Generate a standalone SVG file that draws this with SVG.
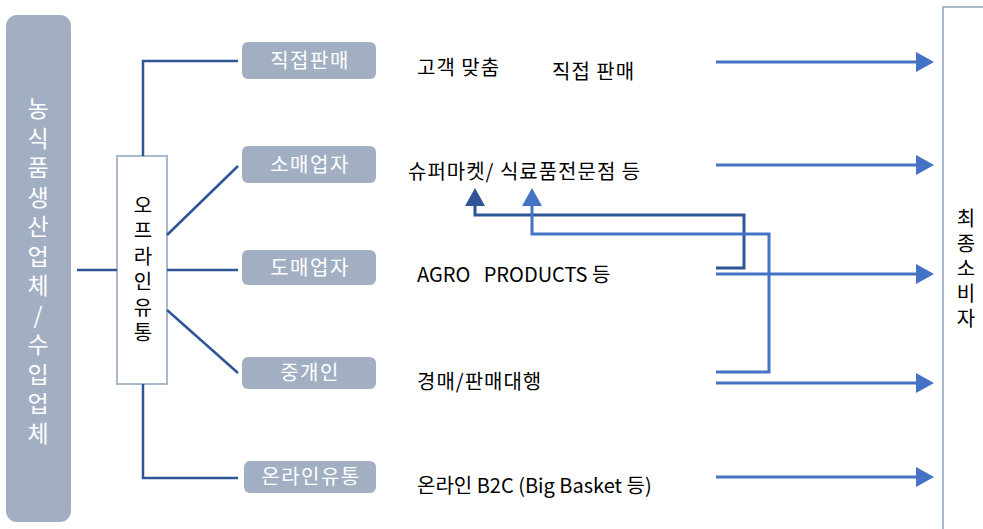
<svg xmlns="http://www.w3.org/2000/svg" width="983" height="529" viewBox="0 0 983 529">
<style>
.node{fill:#a2afc3;}
.nt{font-family:"Noto Sans CJK KR","Noto Sans",sans-serif;font-size:20px;fill:#ffffff;text-anchor:middle;letter-spacing:1.5px;}
.vt{font-family:"Noto Sans CJK KR","Noto Sans",sans-serif;writing-mode:vertical-rl;text-orientation:upright;text-anchor:start;}
.lbl{font-family:"Noto Sans CJK KR","Noto Sans",sans-serif;font-size:20px;fill:#000000;}
.ko{letter-spacing:1px;}
.tree{fill:none;stroke:#2f5597;stroke-width:2.5;}
.arr{fill:none;stroke:#4472c4;stroke-width:3;marker-end:url(#ah);}
.fbd{fill:none;stroke:#2f5597;stroke-width:3;marker-end:url(#ahd);}
.fbl{fill:none;stroke:#4472c4;stroke-width:3;marker-end:url(#ah);}
</style>
<defs>
<marker id="ah" markerUnits="userSpaceOnUse" markerWidth="18" markerHeight="20" refX="0" refY="10" orient="auto" viewBox="0 0 18 20">
<path d="M0,0 L18,10 L0,20 z" fill="#4472c4"/>
</marker>
<marker id="ahd" markerUnits="userSpaceOnUse" markerWidth="18" markerHeight="20" refX="0" refY="10" orient="auto" viewBox="0 0 18 20">
<path d="M0,0 L18,10 L0,20 z" fill="#2f5597"/>
</marker>
</defs>
<rect width="983" height="529" fill="#ffffff"/>

<g id="producer">
<rect x="6" y="15" width="65" height="507" rx="11" class="node"/>
<text class="vt" x="38" y="97" font-size="23" fill="#ffffff" style="letter-spacing:6.5px">농식품생산업체/수입업체</text>
</g>

<g id="offline">
<rect x="117" y="156" width="50" height="228" fill="#ffffff" stroke="#aab8cb" stroke-width="2"/>
<text class="vt" x="143" y="195" font-size="20" fill="#000000" style="letter-spacing:5.5px">오프라인유통</text>
</g>

<g id="direct">
<rect x="242" y="42" width="134" height="37" rx="6" class="node"/>
<text class="nt" x="310" y="68">직접판매</text>
</g>
<g id="retailer">
<rect x="242" y="146" width="134" height="37" rx="6" class="node"/>
<text class="nt" x="310" y="172">소매업자</text>
</g>
<g id="wholesaler">
<rect x="242" y="250" width="134" height="35" rx="6" class="node"/>
<text class="nt" x="310" y="275">도매업자</text>
</g>
<g id="broker">
<rect x="242" y="357" width="134" height="32" rx="6" class="node"/>
<text class="nt" x="310" y="380">중개인</text>
</g>
<g id="online">
<rect x="244" y="461" width="132" height="32" rx="6" class="node"/>
<text class="nt" x="311" y="484">온라인유통</text>
</g>

<g id="consumer">
<rect x="943" y="7" width="52" height="530" fill="#ffffff" stroke="#aab8cb" stroke-width="2"/>
<text class="vt" x="966" y="208" font-size="20" fill="#000000" style="letter-spacing:5px">최종소비자</text>
</g>

<g id="labels">
<text class="lbl ko" x="417" y="75">고객 맞춤</text>
<text class="lbl ko" x="552" y="79">직접 판매</text>
<text class="lbl ko" x="408" y="179">슈퍼마켓/ 식료품전문점 등</text>
<text class="lbl" x="417" y="282" font-size="19" xml:space="preserve">AGRO   PRODUCTS 등</text>
<text class="lbl ko" x="417" y="389">경매/판매대행</text>
<text class="lbl" x="417" y="493">온라인 B2C (Big Basket 등)</text>
</g>

<g id="connectors">
<line class="tree" x1="77" y1="270" x2="117" y2="270"/>
<polyline class="tree" points="143,156 143,61 238,61"/>
<line class="tree" x1="167" y1="235" x2="238" y2="166"/>
<line class="tree" x1="167" y1="270" x2="238" y2="270"/>
<line class="tree" x1="167" y1="310" x2="238" y2="373"/>
<polyline class="tree" points="143,384 143,478 238,478"/>

<line class="arr" x1="716" y1="62" x2="916" y2="62"/>
<line class="arr" x1="716" y1="165" x2="916" y2="165"/>
<line class="arr" x1="716" y1="274" x2="916" y2="274"/>
<line class="arr" x1="716" y1="383" x2="916" y2="383"/>
<line class="arr" x1="716" y1="477" x2="916" y2="477"/>

<polyline class="fbd" points="716,268 744,268 744,215 475,215 475,206"/>
<polyline class="fbl" points="716,372 769,372 769,234 532,234 532,206"/>
</g>
</svg>
